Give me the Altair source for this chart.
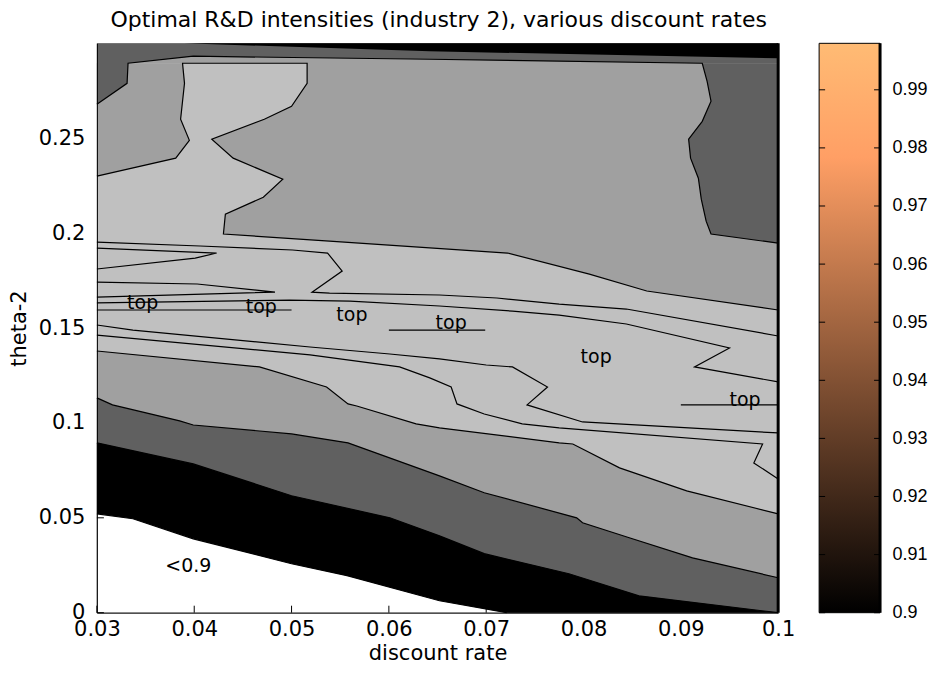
import altair as alt
import pandas as pd

FONT = "DejaVu Sans"
CB_FONT = "Liberation Sans"
LIGHT = "#c0c0c0"
MID = "#a0a0a0"
DARK = "#606060"

# ---- axes -------------------------------------------------------------
X_DOMAIN = [0.03, 0.1]
Y_DOMAIN = [0.0, 0.3]
x_tick_values = [0.03, 0.04, 0.05, 0.06, 0.07, 0.08, 0.09, 0.1]
y_tick_values = [0.0, 0.05, 0.1, 0.15, 0.2, 0.25]
x_ticks_visible = [0.03, 0.04, 0.05, 0.06, 0.07]   # ticks seen in the white (<0.9) zone
y_ticks_visible = [0.0, 0.05]
cbar_domain = [0.9, 0.998]
cbar_ticks = [0.9, 0.91, 0.92, 0.93, 0.94, 0.95, 0.96, 0.97, 0.98, 0.99]

# ---- contour boundaries (discount rate, theta-2) ----------------------
black_top_x = [0.0390, 0.0642, 0.1000]
black_top_y = [0.3000, 0.2958, 0.2921]

dark_top_x = [0.0300, 0.0331, 0.0332, 0.0399, 0.0642, 0.0922]
dark_top_y = [0.2679, 0.2789, 0.2895, 0.2932, 0.2916, 0.2895]

dark_right_y = [0.2895, 0.2800, 0.2695, 0.2589, 0.2495, 0.2395, 0.2289, 0.2179, 0.2063, 0.1995, 0.1947]
dark_right_x = [0.0922, 0.0927, 0.0931, 0.0922, 0.0908, 0.0910, 0.0918, 0.0921, 0.0926, 0.0931, 0.1000]

col_right_y = [0.2895, 0.2789, 0.2668, 0.2600, 0.2495, 0.2395, 0.2284, 0.2189, 0.2100, 0.1995]
col_right_x = [0.0516, 0.0516, 0.0500, 0.0472, 0.0418, 0.0440, 0.0491, 0.0471, 0.0432, 0.0430]

col_left_y = [0.2895, 0.2789, 0.2600, 0.2489, 0.2395, 0.2300]
col_left_x = [0.0388, 0.0390, 0.0386, 0.0395, 0.0381, 0.0300]

upper_light_x = [0.0300, 0.0430, 0.0539, 0.0722, 0.0806, 0.0865, 0.1000]
upper_light_y = [0.1995, 0.1995, 0.1958, 0.1895, 0.1784, 0.1695, 0.1595]

l1_x = [0.0300, 0.0406, 0.0501, 0.0537, 0.0552, 0.0521, 0.0539, 0.0652, 0.0711, 0.0775, 0.0844, 0.1000]
l1_y = [0.1953, 0.1932, 0.1911, 0.1895, 0.1800, 0.1689, 0.1684, 0.1674, 0.1658, 0.1626, 0.1600, 0.1458]

w2_x = [0.0300, 0.0423, 0.0401, 0.0300]
w2_y = [0.1921, 0.1895, 0.1868, 0.1811]

w3_x = [0.0300, 0.0403, 0.0483, 0.0300]
w3_y = [0.1742, 0.1732, 0.1689, 0.1663]

l4_x = [0.0300, 0.0498, 0.0560, 0.0652, 0.0727, 0.0775, 0.0844, 0.0950, 0.0914, 0.1000]
l4_y = [0.1632, 0.1647, 0.1642, 0.1616, 0.1589, 0.1568, 0.1521, 0.1395, 0.1295, 0.1216]

h1_x = [0.0300, 0.0500]
h1_y = [0.1595, 0.1595]
h2_x = [0.0600, 0.0699]
h2_y = [0.1489, 0.1489]
h3_x = [0.0900, 0.1000]
h3_y = [0.1095, 0.1095]

l6_x = [0.0300, 0.0337, 0.0519, 0.0601, 0.0652, 0.0700, 0.0727, 0.0763, 0.0742, 0.0799, 0.1000]
l6_y = [0.1516, 0.1489, 0.1400, 0.1363, 0.1337, 0.1305, 0.1295, 0.1189, 0.1095, 0.1005, 0.0947]

l7_x = [0.0300, 0.0519, 0.0611, 0.0642, 0.0664, 0.0670, 0.0698, 0.0737, 0.0775, 0.0984, 0.0975, 0.1000]
l7_y = [0.1463, 0.1358, 0.1295, 0.1237, 0.1189, 0.1100, 0.1047, 0.0995, 0.0974, 0.0889, 0.0789, 0.0705]

mid_low_x = [0.0300, 0.0467, 0.0536, 0.0558, 0.0567, 0.0628, 0.0652, 0.0775, 0.0789, 0.0837, 0.0906, 0.1000]
mid_low_y = [0.1379, 0.1295, 0.1189, 0.1100, 0.1089, 0.0995, 0.0974, 0.0895, 0.0889, 0.0763, 0.0642, 0.0521]

dark_low_x = [0.0300, 0.0316, 0.0385, 0.0399, 0.0500, 0.0558, 0.0652, 0.0698, 0.0793, 0.0799, 0.0847, 0.0912, 0.1000]
dark_low_y = [0.1132, 0.1095, 0.1011, 0.0989, 0.0942, 0.0895, 0.0721, 0.0632, 0.0500, 0.0474, 0.0395, 0.0289, 0.0184]

black_low_x = [0.0300, 0.0399, 0.0500, 0.0601, 0.0652, 0.0698, 0.0785, 0.0857, 0.1000]
black_low_y = [0.0895, 0.0784, 0.0616, 0.0500, 0.0405, 0.0311, 0.0205, 0.0089, 0.0000]

white_x = [0.0300, 0.0337, 0.0399, 0.0500, 0.0557, 0.0652, 0.0721]
white_y = [0.0521, 0.0495, 0.0389, 0.0258, 0.0195, 0.0063, 0.0000]

label_text = ["top", "top", "top", "top", "top", "top", "<0.9"]
label_x = [0.0347, 0.0469, 0.0562, 0.0664, 0.0813, 0.0966, 0.0394]
label_y = [0.1632, 0.1611, 0.1568, 0.1526, 0.1347, 0.1121, 0.0247]


def pts(xs, ys):
    return pd.DataFrame({"x": xs, "y": ys, "i": list(range(len(xs)))})


xs = alt.Scale(domain=X_DOMAIN, nice=False, zero=False)
ys = alt.Scale(domain=Y_DOMAIN, nice=False, zero=False)

X = alt.X("x:Q", scale=xs, title="discount rate",
          axis=alt.Axis(values=x_tick_values, format="~g", ticks=False, grid=False,
                        labelFlush=False, labelOverlap=False, labelPadding=6,
                        titlePadding=3, zindex=1))
Y = alt.Y("y:Q", scale=ys, title="theta-2",
          axis=alt.Axis(values=y_tick_values, format="~g", ticks=False, grid=False,
                        labelFlush=False, labelOverlap=False, labelPadding=12,
                        titlePadding=9, zindex=1))

layers = []
base = pd.DataFrame({"x": [X_DOMAIN[0]], "x2": [X_DOMAIN[1]], "y": [Y_DOMAIN[0]], "y2": [Y_DOMAIN[1]]})
layers.append(alt.Chart(base).mark_rect(color=MID).encode(x=X, x2="x2:Q", y=Y, y2="y2:Q"))
layers.append(alt.Chart(pts(upper_light_x, upper_light_y)).mark_area(color=LIGHT)
              .encode(x=X, y=Y, y2=alt.datum(0)))
layers.append(alt.Chart(pts(col_right_x, col_right_y)).mark_area(color=LIGHT, orient="horizontal")
              .encode(y=Y, x=X, x2=alt.datum(X_DOMAIN[0])))
layers.append(alt.Chart(pts(col_left_x, col_left_y)).mark_area(color=MID, orient="horizontal")
              .encode(y=Y, x=X, x2=alt.datum(X_DOMAIN[0])))
layers.append(alt.Chart(pts(dark_top_x + [X_DOMAIN[1]], dark_top_y + [dark_top_y[-1]]))
              .mark_area(color=DARK).encode(x=X, y=Y, y2=alt.datum(Y_DOMAIN[1])))
layers.append(alt.Chart(pts(black_top_x, black_top_y)).mark_area(color="black")
              .encode(x=X, y=Y, y2=alt.datum(Y_DOMAIN[1])))
layers.append(alt.Chart(pts(dark_right_x, dark_right_y)).mark_area(color=DARK, orient="horizontal")
              .encode(y=Y, x=X, x2=alt.datum(X_DOMAIN[1])))
layers.append(alt.Chart(pts(mid_low_x, mid_low_y)).mark_area(color=MID)
              .encode(x=X, y=Y, y2=alt.datum(0)))
layers.append(alt.Chart(pts(dark_low_x, dark_low_y)).mark_area(color=DARK)
              .encode(x=X, y=Y, y2=alt.datum(0)))
layers.append(alt.Chart(pts(black_low_x, black_low_y)).mark_area(color="black")
              .encode(x=X, y=Y, y2=alt.datum(0)))
layers.append(alt.Chart(pts(white_x, white_y)).mark_area(color="white")
              .encode(x=X, y=Y, y2=alt.datum(0)))

line_sets = [
    (dark_top_x + dark_right_x, dark_top_y + dark_right_y),
    (col_left_x[::-1] + col_right_x + upper_light_x[1:], col_left_y[::-1] + col_right_y + upper_light_y[1:]),
    (l1_x, l1_y), (w2_x, w2_y), (w3_x, w3_y), (l4_x, l4_y),
    (h1_x, h1_y), (h2_x, h2_y), (h3_x, h3_y),
    (l6_x, l6_y), (l7_x, l7_y),
    (mid_low_x, mid_low_y), (dark_low_x, dark_low_y), (black_low_x, black_low_y),
    (white_x, white_y),
]
frames = []
for k, (lx, ly) in enumerate(line_sets):
    f = pts(lx, ly)
    f["k"] = k
    frames.append(f)
lines = pd.concat(frames, ignore_index=True)
layers.append(alt.Chart(lines).mark_line(color="black", strokeWidth=1.2, strokeJoin="miter")
              .encode(x=X, y=Y, detail="k:N", order="i:Q"))

labels = pd.DataFrame({"x": label_x, "y": label_y, "t": label_text})
layers.append(alt.Chart(labels).mark_text(font=FONT, fontSize=19, color="black", baseline="middle")
              .encode(x=X, y=Y, text="t:N"))

layers.append(alt.Chart(pd.DataFrame({"x": x_ticks_visible})).mark_rule(color="black")
              .encode(x=X, y=alt.value(570), y2=alt.value(563)))
layers.append(alt.Chart(pd.DataFrame({"y": y_ticks_visible})).mark_rule(color="black")
              .encode(y=Y, x=alt.value(0), x2=alt.value(7)))
layers.append(alt.Chart(pd.DataFrame({"x": [X_DOMAIN[1]]})).mark_rule(color="black", strokeWidth=3)
              .encode(x=X))

main = alt.layer(*layers).properties(width=682, height=570)

# ---- colour bar --------------------------------------------------------
copper = alt.LinearGradient(
    gradient="linear",
    stops=[alt.GradientStop(color="#000000", offset=0),
           alt.GradientStop(color="#ff9f65", offset=0.8),
           alt.GradientStop(color="#ffbb74", offset=1)],
    x1=0, x2=0, y1=1, y2=0)

cs = alt.Scale(domain=cbar_domain, nice=False, zero=False)
CY = alt.Y("v:Q", scale=cs, title=None,
           axis=alt.Axis(orient="right", values=cbar_ticks, format="~g", ticks=False, grid=False,
                         domain=False, labelFlush=False, labelOverlap=False, labelPadding=12,
                         labelFont=CB_FONT, labelFontSize=18))
cb_rect = alt.Chart(pd.DataFrame({"v": [cbar_domain[0]], "v2": [cbar_domain[1]]})).mark_rect(
    fill=copper, stroke="black", strokeWidth=1).encode(y=CY, y2="v2:Q", x=alt.value(0), x2=alt.value(61))
cb_tl = alt.Chart(pd.DataFrame({"v": cbar_ticks})).mark_rule(color="black").encode(
    y=CY, x=alt.value(0), x2=alt.value(6))
cb_tr = alt.Chart(pd.DataFrame({"v": cbar_ticks})).mark_rule(color="black").encode(
    y=CY, x=alt.value(55), x2=alt.value(61))
cb_edge = alt.Chart(pd.DataFrame({"v": [cbar_domain[0]]})).mark_rule(color="black", strokeWidth=3).encode(
    x=alt.value(61))
cbar = alt.layer(cb_rect, cb_tl, cb_tr, cb_edge).properties(width=61, height=570)

chart = alt.hconcat(main, cbar, spacing=23).properties(
    title=alt.Title("Optimal R&D intensities (industry 2), various discount rates",
                    font=FONT, fontSize=22, fontWeight="normal", anchor="middle", dx=-29, offset=10),
    padding={"left": 0, "top": 0, "right": 0, "bottom": 0},
).configure_view(stroke=None).configure_axis(
    labelFont=FONT, titleFont=FONT, labelFontSize=21, titleFontSize=21,
    titleFontWeight="normal", labelColor="black", titleColor="black",
    domainColor="black", domainWidth=1,
)

chart.save("out.html", embed_options={"renderer": "svg", "actions": False})
